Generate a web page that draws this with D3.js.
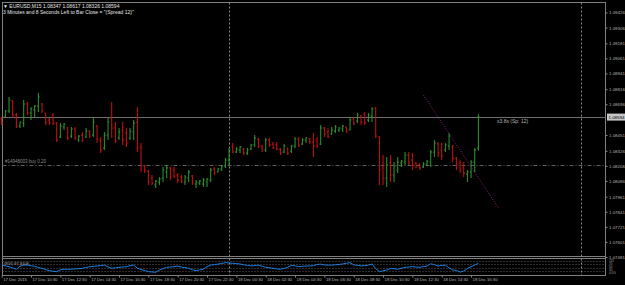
<!DOCTYPE html>
<html>
<head>
<meta charset="utf-8">
<script src="https://cdn.jsdelivr.net/npm/d3@7"></script>
<style>
  html, body { margin: 0; padding: 0; background: #000; }
  svg { display: block; }
  text { font-family: "Liberation Sans", Arial, sans-serif; }
</style>
</head>
<body>
<div id="chart"></div>
<script>
// EURUSD M15 bars, 17 Dec 2015 08:30 -> 18 Dec 2015 17:00
const open = [1.08587,1.08595,1.08642,1.08722,1.08611,1.08523,1.08547,1.08698,1.08627,1.08650,
  1.08682,1.08698,1.08627,1.08571,1.08611,1.08547,1.08435,1.08515,1.08507,1.08443,
  1.08499,1.08412,1.08451,1.08435,1.08483,1.08451,1.08523,1.08412,1.08348,1.08451,
  1.08587,1.08507,1.08428,1.08491,1.08467,1.08428,1.08475,1.08555,1.08356,1.08205,
  1.08165,1.08109,1.08054,1.08077,1.08109,1.08157,1.08189,1.08173,1.08133,1.08117,
  1.08077,1.08109,1.08125,1.08061,1.08069,1.08061,1.08077,1.08093,1.08181,1.08157,
  1.08181,1.08205,1.08252,1.08356,1.08316,1.08332,1.08340,1.08308,1.08340,1.08372,
  1.08420,1.08364,1.08332,1.08412,1.08380,1.08372,1.08340,1.08316,1.08348,1.08324,
  1.08364,1.08420,1.08380,1.08412,1.08420,1.08396,1.08412,1.08380,1.08507,1.08475,
  1.08459,1.08483,1.08491,1.08499,1.08515,1.08491,1.08579,1.08563,1.08603,1.08619,
  1.08571,1.08603,1.08666,1.08435,1.08189,1.08109,1.08229,1.08133,1.08173,1.08229,
  1.08236,1.08292,1.08252,1.08229,1.08213,1.08197,1.08221,1.08236,1.08316,1.08380,
  1.08332,1.08332,1.08364,1.08356,1.08268,1.08229,1.08189,1.08141,1.08157,1.08236,
  1.08347];
const high = [1.08595,1.08650,1.08754,1.08730,1.08627,1.08555,1.08730,1.08714,1.08674,1.08690,
  1.08786,1.08706,1.08627,1.08587,1.08627,1.08555,1.08547,1.08547,1.08515,1.08515,
  1.08515,1.08451,1.08475,1.08507,1.08491,1.08587,1.08531,1.08435,1.08475,1.08587,
  1.08714,1.08555,1.08507,1.08555,1.08507,1.08507,1.08571,1.08674,1.08388,1.08213,
  1.08173,1.08133,1.08093,1.08117,1.08197,1.08213,1.08197,1.08197,1.08149,1.08133,
  1.08133,1.08173,1.08133,1.08093,1.08093,1.08109,1.08109,1.08189,1.08197,1.08189,
  1.08213,1.08268,1.08348,1.08388,1.08356,1.08364,1.08348,1.08348,1.08380,1.08451,
  1.08428,1.08372,1.08428,1.08428,1.08396,1.08396,1.08348,1.08380,1.08348,1.08372,
  1.08435,1.08435,1.08428,1.08435,1.08428,1.08467,1.08435,1.08531,1.08515,1.08507,
  1.08515,1.08531,1.08515,1.08531,1.08515,1.08595,1.08595,1.08627,1.08611,1.08634,
  1.08627,1.08674,1.08674,1.08443,1.08292,1.08276,1.08292,1.08236,1.08276,1.08252,
  1.08316,1.08316,1.08308,1.08236,1.08229,1.08236,1.08252,1.08332,1.08412,1.08396,
  1.08388,1.08388,1.08467,1.08372,1.08276,1.08252,1.08236,1.08173,1.08252,1.08348,
  1.08617];
const low = [1.08531,1.08587,1.08627,1.08587,1.08507,1.08507,1.08515,1.08611,1.08571,1.08587,
  1.08634,1.08627,1.08531,1.08531,1.08531,1.08396,1.08428,1.08491,1.08412,1.08428,
  1.08412,1.08396,1.08396,1.08428,1.08428,1.08435,1.08388,1.08308,1.08332,1.08412,
  1.08428,1.08388,1.08412,1.08372,1.08356,1.08412,1.08412,1.08316,1.08157,1.08149,
  1.08054,1.08054,1.08030,1.08054,1.08077,1.08109,1.08093,1.08109,1.08069,1.08069,
  1.08054,1.08077,1.08054,1.08030,1.08054,1.08038,1.08038,1.08077,1.08133,1.08157,
  1.08165,1.08189,1.08213,1.08308,1.08308,1.08308,1.08292,1.08292,1.08332,1.08356,
  1.08348,1.08316,1.08316,1.08356,1.08340,1.08332,1.08292,1.08308,1.08292,1.08308,
  1.08348,1.08356,1.08372,1.08388,1.08380,1.08276,1.08348,1.08372,1.08435,1.08428,
  1.08451,1.08467,1.08475,1.08475,1.08467,1.08491,1.08531,1.08547,1.08531,1.08531,
  1.08555,1.08555,1.08428,1.08054,1.08054,1.08038,1.08077,1.08077,1.08149,1.08197,
  1.08213,1.08213,1.08173,1.08189,1.08173,1.08189,1.08205,1.08197,1.08276,1.08276,
  1.08252,1.08316,1.08332,1.08236,1.08173,1.08149,1.08117,1.08077,1.08109,1.08157,
  1.08326];
const close = [1.08547,1.08642,1.08730,1.08611,1.08523,1.08555,1.08698,1.08627,1.08658,1.08682,
  1.08754,1.08642,1.08555,1.08547,1.08547,1.08412,1.08523,1.08539,1.08428,1.08499,
  1.08428,1.08443,1.08412,1.08483,1.08443,1.08555,1.08420,1.08332,1.08451,1.08555,
  1.08507,1.08404,1.08475,1.08412,1.08388,1.08483,1.08547,1.08348,1.08205,1.08173,
  1.08077,1.08069,1.08085,1.08101,1.08173,1.08189,1.08117,1.08125,1.08093,1.08085,
  1.08117,1.08157,1.08069,1.08077,1.08085,1.08093,1.08101,1.08173,1.08149,1.08181,
  1.08205,1.08252,1.08332,1.08316,1.08340,1.08356,1.08308,1.08332,1.08372,1.08428,
  1.08364,1.08332,1.08412,1.08372,1.08348,1.08340,1.08308,1.08364,1.08308,1.08364,
  1.08420,1.08372,1.08412,1.08428,1.08396,1.08364,1.08364,1.08507,1.08459,1.08435,
  1.08491,1.08515,1.08507,1.08523,1.08483,1.08571,1.08539,1.08611,1.08555,1.08547,
  1.08611,1.08658,1.08443,1.08173,1.08109,1.08213,1.08133,1.08205,1.08236,1.08244,
  1.08292,1.08229,1.08213,1.08205,1.08189,1.08221,1.08244,1.08316,1.08388,1.08308,
  1.08284,1.08372,1.08443,1.08268,1.08213,1.08173,1.08149,1.08157,1.08236,1.08332,
  1.08594];

// indicator in the sub window
const subValues = [62,57,52,44,36,55,62,62,58,54,47,42,34,27,24,21,33,36,36,36,
  38,40,42,47,52,54,56,59,62,50,42,45,48,50,52,58,62,42,34,28,
  21,19,17,31,40,48,50,52,55,50,46,42,33,27,32,36,52,62,65,68,
  72,77,75,73,71,69,64,60,57,59,62,55,48,45,42,38,36,41,48,60,
  57,52,54,56,57,58,66,68,63,62,62,64,66,69,73,77,64,60,57,59,
  62,69,40,21,26,31,40,40,36,42,48,50,52,50,48,52,56,70,65,56,
  60,62,45,31,29,18,25,40,52,62,73];

// 1.08571 sits under the current price box, so it is left out
const priceTicks = [1.09426,1.09306,1.09181,1.09061,1.08941,1.08816,1.08696,1.08451,
  1.08326,1.08206,1.08086,1.07961,1.07841,1.07721,1.07601,1.07481];
const timeTickBars = [0,8,16,24,32,40,48,56,64,72,80,88,96,104,112,120,128];
const timeTickLabels = ["17 Dec 2015","17 Dec 10:30","17 Dec 12:30","17 Dec 14:30","17 Dec 16:30",
  "17 Dec 18:30","17 Dec 20:30","17 Dec 22:30","18 Dec 00:30","18 Dec 02:30","18 Dec 04:30",
  "18 Dec 06:30","18 Dec 08:30","18 Dec 10:30","18 Dec 12:30","18 Dec 14:30","18 Dec 16:30"];
const separatorBars = [62, 158];       // 18 Dec 00:00, 19 Dec 00:00
const orderPrice = 1.08213;
const trendLine = [{bar: 115, price: 1.08770}, {bar: 135.5, price: 1.07870}];

const width = 625, height = 285;
const plot = {left: 2.5, right: 605.5, top: 2.5, bottom: 256.5, subTop: 258.5, subBottom: 275.5};

const svg = d3.select("#chart").append("svg")
  .attr("width", width)
  .attr("height", height);

svg.append("rect").attr("width", width).attr("height", height).attr("fill", "#000");

const x = d3.scaleLinear().domain([0, 130]).range([1.7, 478.4]);
const y = d3.scaleLinear().domain([1.07481, 1.09426]).range([257, 12.5]);
const ySub = d3.scaleLinear().domain([0, 100]).range([275, 259]);

// frames
svg.append("rect")
  .attr("x", plot.left).attr("y", plot.top)
  .attr("width", plot.right - plot.left).attr("height", plot.subBottom - plot.top)
  .attr("fill", "none").attr("stroke", "#7f7f7f").attr("stroke-width", 1);
svg.append("line")
  .attr("x1", plot.left).attr("x2", plot.right)
  .attr("y1", plot.bottom).attr("y2", plot.bottom)
  .attr("stroke", "#7f7f7f");
svg.append("line")
  .attr("x1", plot.left).attr("x2", plot.right)
  .attr("y1", plot.subTop).attr("y2", plot.subTop)
  .attr("stroke", "#7f7f7f");

// sub window dotted levels
[261.5, 264.5, 268.5, 271.5].forEach(v => {
  svg.append("line")
    .attr("x1", plot.left).attr("x2", plot.right)
    .attr("y1", v).attr("y2", v)
    .attr("stroke", "#5a5a5a").attr("stroke-dasharray", "1,2");
});

// period separators
svg.selectAll(".sep").data(separatorBars).enter().append("line")
  .attr("class", "sep")
  .attr("x1", d => Math.round(x(d)) + 0.5).attr("x2", d => Math.round(x(d)) + 0.5)
  .attr("y1", plot.top).attr("y2", plot.subBottom)
  .attr("stroke", "#8c8c8c").attr("stroke-dasharray", "2,2");

// bid line
svg.append("line")
  .attr("x1", plot.left).attr("x2", plot.right)
  .attr("y1", Math.round(y(close[close.length - 1])) + 0.5)
  .attr("y2", Math.round(y(close[close.length - 1])) + 0.5)
  .attr("stroke", "#6e6e6e");

// order line
svg.append("line")
  .attr("x1", plot.left).attr("x2", plot.right)
  .attr("y1", Math.round(y(orderPrice)) + 0.5).attr("y2", Math.round(y(orderPrice)) + 0.5)
  .attr("stroke", "#5f5f5f").attr("stroke-dasharray", "4,2,1,2");
svg.append("text")
  .attr("x", 5).attr("y", y(orderPrice) - 1.5)
  .attr("fill", "#8a8a8a").style("font-size", "4.5px")
  .text("#14948003 buy 0.20");

// OHLC bars
const bars = d3.range(open.length).map(i => ({i, o: open[i], h: high[i], l: low[i], c: close[i]}));
const colorOf = d => d.c >= d.o ? "#2f9a2f" : "#d01010";
const barG = svg.append("g");
barG.selectAll(".hl").data(bars).enter().append("line")
  .attr("x1", d => x(d.i)).attr("x2", d => x(d.i))
  .attr("y1", d => y(d.h)).attr("y2", d => y(d.l))
  .attr("stroke", colorOf).attr("stroke-width", 1);
barG.selectAll(".op").data(bars).enter().append("line")
  .attr("x1", d => x(d.i) - 1.3).attr("x2", d => x(d.i))
  .attr("y1", d => y(d.o)).attr("y2", d => y(d.o))
  .attr("stroke", colorOf).attr("stroke-width", 1);
barG.selectAll(".cl").data(bars).enter().append("line")
  .attr("x1", d => x(d.i)).attr("x2", d => x(d.i) + 1.3)
  .attr("y1", d => y(d.c)).attr("y2", d => y(d.c))
  .attr("stroke", colorOf).attr("stroke-width", 1);

// trend line
svg.append("line")
  .attr("x1", x(trendLine[0].bar)).attr("y1", y(trendLine[0].price))
  .attr("x2", x(trendLine[1].bar)).attr("y2", y(trendLine[1].price))
  .attr("stroke", "#8b1a8b").attr("stroke-width", 1).attr("stroke-dasharray", "1,1.5");

// timer text near last bar
svg.append("text")
  .attr("x", 497).attr("y", 123)
  .attr("fill", "#b4b4b4").style("font-size", "5px")
  .text("x3.8s (Sp: 12)");

// sub window line
const subLine = d3.line().x((d, i) => x(i)).y(d => ySub(d));
svg.append("path")
  .datum(subValues)
  .attr("d", subLine)
  .attr("fill", "none").attr("stroke", "#1e7ee0").attr("stroke-width", 1);
svg.append("text")
  .attr("x", 4).attr("y", 265)
  .attr("fill", "#a0a0a0").style("font-size", "4px")
  .text("(RVI) 87.8408");

// price axis
const yAxis = d3.axisRight(y).tickValues(priceTicks).tickFormat(d3.format(".5f")).tickSize(2).tickPadding(1.5);
const yAxisG = svg.append("g").attr("transform", `translate(${plot.right},0)`).call(yAxis);
yAxisG.select(".domain").remove();
yAxisG.selectAll("line").attr("stroke", "#8c8c8c");
yAxisG.selectAll("text").attr("fill", "#b4b4b4").style("font-size", "4.4px")
  .style("font-family", "Liberation Sans, Arial, sans-serif");

// current price box
const lastY = y(close[close.length - 1]);
svg.append("rect")
  .attr("x", 607).attr("y", lastY - 3.5).attr("width", 18).attr("height", 7)
  .attr("fill", "#c8c8c8");
svg.append("text")
  .attr("x", 608.5).attr("y", lastY + 1.6)
  .attr("fill", "#000").style("font-size", "4.4px")
  .text(d3.format(".5f")(close[close.length - 1]));

// sub window axis labels
["113", "70", "50", "30", "0.0%"].forEach((t, k) => {
  svg.append("text")
    .attr("x", 609).attr("y", 262 + k * 3)
    .attr("fill", "#a0a0a0").style("font-size", "3px").text(t);
});

// time axis
const xAxis = d3.axisBottom(x).tickValues(timeTickBars)
  .tickFormat((d, i) => timeTickLabels[i]).tickSize(2).tickPadding(1);
const xAxisG = svg.append("g").attr("transform", `translate(0,${plot.subBottom})`).call(xAxis);
xAxisG.select(".domain").remove();
xAxisG.selectAll("line").attr("stroke", "#8c8c8c");
xAxisG.selectAll("text").attr("fill", "#b4b4b4").style("font-size", "4.2px")
  .style("font-family", "Liberation Sans, Arial, sans-serif")
  .attr("text-anchor", "start").attr("dx", 1);

// header
svg.append("text")
  .attr("x", 3).attr("y", 8)
  .attr("fill", "#e6e6e6").style("font-size", "5px")
  .text("\u25BC EURUSD,M15  1.08347 1.08617 1.08326 1.08594");
svg.append("text")
  .attr("x", 3).attr("y", 14)
  .attr("fill", "#e6e6e6").style("font-size", "5px")
  .text("3 Minutes and 8 Seconds Left to Bar Close = \"(Spread 12)\"");
</script>
</body>
</html>
